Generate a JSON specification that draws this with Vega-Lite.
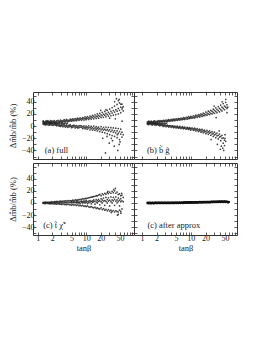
{
  "$schema": "https://vega.github.io/schema/vega-lite/v6.json",
  "padding": {"left": 7, "top": 91, "right": 0, "bottom": 0},
  "background": "white",
  "spacing": 0,
  "config": {
    "view": {"stroke": "#333", "strokeWidth": 1},
    "concat": {"spacing": 0},
    "axis": {"domain": false, "grid": false, "tickSize": -3, "tickColor": "#333", "tickWidth": 0.8,
      "labelFont": "Liberation Serif", "labelFontSize": 8, "labelColor": "#222", "labelOverlap": false,
      "titleFont": "Liberation Serif", "titleFontSize": 8.5, "titleFontWeight": "normal", "titleColor": "#222"}
  },
  "vconcat": [
    {"bounds": "flush", "spacing": 0, "hconcat": [
      {"width": 101, "height": 67,
       "layer": [
        {"data": {"values": [
{"t":1.3,"v":7.5},{"t":1.3,"v":5},{"t":1.3,"v":3},{"t":1.3,"v":5.5},{"t":1.3,"v":8.5},
{"t":1.38,"v":6.5},{"t":1.38,"v":4.5},{"t":1.38,"v":2.5},{"t":1.38,"v":6},
{"t":1.46,"v":8},{"t":1.46,"v":5.5},{"t":1.46,"v":3.5},{"t":1.46,"v":2},
{"t":1.55,"v":7},{"t":1.55,"v":4},{"t":1.55,"v":3},{"t":1.55,"v":6.5},{"t":1.55,"v":9},
{"t":1.64,"v":6},{"t":1.64,"v":8.5},{"t":1.64,"v":2},{"t":1.64,"v":4.5},
{"t":1.74,"v":7.5},{"t":1.74,"v":5},{"t":1.74,"v":3.5},{"t":1.74,"v":1.5},
{"t":1.84,"v":6.5},{"t":1.84,"v":9},{"t":1.84,"v":4},{"t":1.84,"v":2.5},
{"t":1.95,"v":7},{"t":1.95,"v":5},{"t":1.95,"v":2},{"t":1.95,"v":4.5},{"t":1.95,"v":8},
{"t":2.07,"v":8},{"t":2.07,"v":5.5},{"t":2.07,"v":3},{"t":2.07,"v":1},
{"t":2.2,"v":6.5},{"t":2.2,"v":9},{"t":2.2,"v":2.5},{"t":2.2,"v":4},
{"t":2.33,"v":7.5},{"t":2.33,"v":5.5},{"t":2.33,"v":1.5},{"t":2.33,"v":3.5},
{"t":2.47,"v":8.5},{"t":2.47,"v":6},{"t":2.47,"v":2.5},{"t":2.47,"v":0.5},
{"t":2.62,"v":7},{"t":2.62,"v":9.5},{"t":2.62,"v":1},{"t":2.62,"v":3.5},
{"t":2.78,"v":8},{"t":2.78,"v":6},{"t":2.78,"v":2},{"t":2.78,"v":0},
{"t":2.95,"v":7.5},{"t":2.95,"v":10},{"t":2.95,"v":1.5},{"t":2.95,"v":-0.5},
{"t":3.13,"v":8.5},{"t":3.13,"v":6.5},{"t":3.13,"v":0.5},{"t":3.13,"v":3},
{"t":3.32,"v":9},{"t":3.32,"v":7},{"t":3.32,"v":1.5},{"t":3.32,"v":-1},
{"t":3.52,"v":8},{"t":3.52,"v":10.5},{"t":3.52,"v":0},{"t":3.52,"v":2.5},
{"t":3.73,"v":9.5},{"t":3.73,"v":7},{"t":3.73,"v":1},{"t":3.73,"v":-1.5},
{"t":3.96,"v":8.5},{"t":3.96,"v":11},{"t":3.96,"v":-0.5},{"t":3.96,"v":2},
{"t":4.2,"v":9.5},{"t":4.2,"v":7.5},{"t":4.2,"v":0.5},{"t":4.2,"v":-2},
{"t":4.45,"v":10},{"t":4.45,"v":8},{"t":4.45,"v":1.5},{"t":4.45,"v":-1},
{"t":4.72,"v":9},{"t":4.72,"v":11.5},{"t":4.72,"v":-0.5},{"t":4.72,"v":2},
{"t":5.0,"v":10.5},{"t":5.0,"v":8},{"t":5.0,"v":0},{"t":5.0,"v":-2.5},
{"t":5.3,"v":9.5},{"t":5.3,"v":12},{"t":5.3,"v":1},{"t":5.3,"v":-1.5},
{"t":5.6,"v":11},{"t":5.6,"v":8.5},{"t":5.6,"v":-1},{"t":5.6,"v":1.5},
{"t":5.95,"v":10},{"t":5.95,"v":12.5},{"t":5.95,"v":0},{"t":5.95,"v":-3},
{"t":6.3,"v":11.5},{"t":6.3,"v":9},{"t":6.3,"v":-1.5},{"t":6.3,"v":1},
{"t":6.7,"v":10.5},{"t":6.7,"v":13},{"t":6.7,"v":-0.5},{"t":6.7,"v":-3},
{"t":7.1,"v":12},{"t":7.1,"v":9.5},{"t":7.1,"v":0.5},{"t":7.1,"v":-2.5},
{"t":7.5,"v":11},{"t":7.5,"v":13.5},{"t":7.5,"v":-1.5},{"t":7.5,"v":1},
{"t":8,"v":12.5},{"t":8,"v":10},{"t":8,"v":-2},{"t":8,"v":0.5},
{"t":8.5,"v":11.5},{"t":8.5,"v":14},{"t":8.5,"v":-1},{"t":8.5,"v":-4},
{"t":9,"v":13},{"t":9,"v":10},{"t":9,"v":-2.5},{"t":9,"v":0.5},
{"t":9.5,"v":12},{"t":9.5,"v":15},{"t":9.5,"v":-1.5},{"t":9.5,"v":-4.5},
{"t":10,"v":13.5},{"t":10,"v":10.5},{"t":10,"v":-3},{"t":10,"v":0},
{"t":10.6,"v":12.5},{"t":10.6,"v":15.5},{"t":10.6,"v":-1.5},{"t":10.6,"v":-5},
{"t":11.3,"v":14},{"t":11.3,"v":11},{"t":11.3,"v":-3},{"t":11.3,"v":0.5},
{"t":12,"v":13},{"t":12,"v":16.5},{"t":12,"v":-2},{"t":12,"v":-6},
{"t":12.7,"v":15},{"t":12.7,"v":11.5},{"t":12.7,"v":-4},{"t":12.7,"v":-0.5},
{"t":13.5,"v":14},{"t":13.5,"v":17.5},{"t":13.5,"v":-2.5},{"t":13.5,"v":-6.5},
{"t":14.3,"v":16},{"t":14.3,"v":12},{"t":14.3,"v":-4.5},{"t":14.3,"v":0},
{"t":15.2,"v":14.5},{"t":15.2,"v":18.5},{"t":15.2,"v":-3},{"t":15.2,"v":-7},
{"t":16.1,"v":16.5},{"t":16.1,"v":12.5},{"t":16.1,"v":-5},{"t":16.1,"v":-1},
{"t":17,"v":15.5},{"t":17,"v":20},{"t":17,"v":-3.5},{"t":17,"v":-8},
{"t":18,"v":17.5},{"t":18,"v":13},{"t":18,"v":-5.5},{"t":18,"v":-1.5},
{"t":19.1,"v":16},{"t":19.1,"v":21},{"t":19.1,"v":-4},{"t":19.1,"v":-9},
{"t":20.3,"v":18.5},{"t":20.3,"v":14},{"t":20.3,"v":-6},{"t":20.3,"v":-1},
{"t":21.5,"v":17},{"t":21.5,"v":22.5},{"t":21.5,"v":-4.5},{"t":21.5,"v":-10},
{"t":22.8,"v":19.5},{"t":22.8,"v":14.5},{"t":22.8,"v":-6.5},{"t":22.8,"v":-2},
{"t":24.2,"v":18},{"t":24.2,"v":24},{"t":24.2,"v":-5},{"t":24.2,"v":-11},
{"t":25.6,"v":21},{"t":25.6,"v":15.5},{"t":25.6,"v":-7},{"t":25.6,"v":-1.5},{"t":25.6,"v":27},
{"t":27.2,"v":19},{"t":27.2,"v":26},{"t":27.2,"v":-5.5},{"t":27.2,"v":-12.5},
{"t":28.8,"v":22.5},{"t":28.8,"v":16.5},{"t":28.8,"v":-8},{"t":28.8,"v":-2},
{"t":30.5,"v":20},{"t":30.5,"v":28},{"t":30.5,"v":-6},{"t":30.5,"v":-14},{"t":30.5,"v":13},
{"t":32.4,"v":24},{"t":32.4,"v":17},{"t":32.4,"v":-9},{"t":32.4,"v":-2.5},
{"t":34.3,"v":21.5},{"t":34.3,"v":30.5},{"t":34.3,"v":-6.5},{"t":34.3,"v":-15.5},
{"t":36.4,"v":25.5},{"t":36.4,"v":18},{"t":36.4,"v":-10},{"t":36.4,"v":-3},
{"t":38.6,"v":23},{"t":38.6,"v":33},{"t":38.6,"v":-7.5},{"t":38.6,"v":-17},{"t":38.6,"v":40},
{"t":40.9,"v":27},{"t":40.9,"v":19},{"t":40.9,"v":-11},{"t":40.9,"v":-3.5},
{"t":43.4,"v":24.5},{"t":43.4,"v":35.5},{"t":43.4,"v":-8},{"t":43.4,"v":-19},
{"t":46,"v":29},{"t":46,"v":20},{"t":46,"v":-12},{"t":46,"v":-4},{"t":46,"v":42},
{"t":48.8,"v":26},{"t":48.8,"v":38},{"t":48.8,"v":-9},{"t":48.8,"v":-22},
{"t":51.7,"v":31},{"t":51.7,"v":22},{"t":51.7,"v":-13},{"t":51.7,"v":-5},
{"t":54.8,"v":28},{"t":54.8,"v":36},{"t":54.8,"v":-10},{"t":54.8,"v":-18},
{"t":58.1,"v":32},{"t":58.1,"v":25},{"t":58.1,"v":-14},
{"t":25,"v":-44},{"t":30,"v":-28},{"t":38,"v":-33},{"t":45,"v":-40},{"t":48,"v":-30},{"t":22,"v":-20},{"t":55,"v":8},{"t":48,"v":44},{"t":52,"v":36},{"t":40,"v":12},{"t":35,"v":-24},{"t":44,"v":-14},{"t":33,"v":-20},{"t":50,"v":-26},{"t":42,"v":45},{"t":56,"v":30},{"t":20,"v":26},{"t":27,"v":-17},
{"t":1.34,"v":6},{"t":1.42,"v":5},{"t":1.5,"v":4},{"t":1.6,"v":7},{"t":1.7,"v":6},{"t":1.8,"v":5},{"t":1.9,"v":6},{"t":2.0,"v":4.5},{"t":2.13,"v":6},{"t":2.27,"v":5},{"t":2.4,"v":4},{"t":2.55,"v":5},{"t":2.7,"v":4},{"t":2.87,"v":5},{"t":3.05,"v":4.5},{"t":3.2,"v":5},{"t":3.4,"v":4},{"t":3.6,"v":5},{"t":3.85,"v":4.5},{"t":4.1,"v":5}
        ]},
         "mark": {"type": "circle", "size": 3, "color": "#222", "opacity": 0.85},
         "encoding": {
          "x": {"field": "t", "type": "quantitative", "scale": {"type": "log", "domain": [0.8, 97], "nice": false},
                "axis": {"values": [1,2,3,4,5,6,7,8,9,10,20,30,40,50,60,70,80,90], "labels": false, "title": null}},
          "y": {"field": "v", "type": "quantitative", "scale": {"domain": [-54, 56], "nice": false},
                "axis": {"values": [-50,-40,-30,-20,-10,0,10,20,30,40,50], "labelExpr": "datum.value % 20 == 0 ? datum.label : ''", "title": "Δm̂b/m̂b (%)", "titlePadding": 4}}
         }},
        {"data": {"values": [{"t": 1.4, "v": -39, "s": "(a) full"}]},
         "mark": {"type": "text", "align": "left", "baseline": "middle", "font": "Liberation Serif", "fontSize": 8.5, "color": "#222"},
         "encoding": {
          "x": {"field": "t", "type": "quantitative", "axis": {"orient": "top", "values": [1,2,3,4,5,6,7,8,9,10,20,30,40,50,60,70,80,90], "labels": false, "title": null}},
          "y": {"field": "v", "type": "quantitative", "axis": {"orient": "right", "values": [-50,-40,-30,-20,-10,0,10,20,30,40,50], "labels": false, "title": null}},
          "text": {"field": "s"}
         }}
       ],
       "resolve": {"axis": {"x": "independent", "y": "independent"}}
      },
      {"width": 103, "height": 67,
       "layer": [
        {"data": {"values": [
{"t":1.3,"v":7},{"t":1.3,"v":5},{"t":1.3,"v":3},{"t":1.3,"v":5},
{"t":1.38,"v":6},{"t":1.38,"v":8},{"t":1.38,"v":4.5},{"t":1.38,"v":2.5},
{"t":1.46,"v":7.5},{"t":1.46,"v":5.5},{"t":1.46,"v":3.5},{"t":1.46,"v":5.5},
{"t":1.55,"v":6.5},{"t":1.55,"v":8},{"t":1.55,"v":2.5},{"t":1.55,"v":4.5},
{"t":1.64,"v":7},{"t":1.64,"v":5.5},{"t":1.64,"v":4},{"t":1.64,"v":2},
{"t":1.74,"v":8},{"t":1.74,"v":6},{"t":1.74,"v":3},{"t":1.74,"v":5},
{"t":1.84,"v":6.5},{"t":1.84,"v":8.5},{"t":1.84,"v":2},{"t":1.84,"v":4},
{"t":1.95,"v":7.5},{"t":1.95,"v":6},{"t":1.95,"v":3.5},{"t":1.95,"v":1.5},
{"t":2.07,"v":8},{"t":2.07,"v":6.5},{"t":2.07,"v":2.5},{"t":2.07,"v":4},
{"t":2.2,"v":7},{"t":2.2,"v":9},{"t":2.2,"v":1.5},{"t":2.2,"v":3.5},
{"t":2.33,"v":8.5},{"t":2.33,"v":6.5},{"t":2.33,"v":2.5},{"t":2.33,"v":0.5},
{"t":2.47,"v":7.5},{"t":2.47,"v":9},{"t":2.47,"v":1.5},{"t":2.47,"v":3},
{"t":2.62,"v":8.5},{"t":2.62,"v":7},{"t":2.62,"v":0.5},{"t":2.62,"v":2.5},
{"t":2.78,"v":7.5},{"t":2.78,"v":9.5},{"t":2.78,"v":1.5},{"t":2.78,"v":-0.5},
{"t":2.95,"v":9},{"t":2.95,"v":7},{"t":2.95,"v":0.5},{"t":2.95,"v":2},
{"t":3.13,"v":8},{"t":3.13,"v":10},{"t":3.13,"v":1},{"t":3.13,"v":-1},
{"t":3.32,"v":9.5},{"t":3.32,"v":7.5},{"t":3.32,"v":0},{"t":3.32,"v":1.5},
{"t":3.52,"v":8.5},{"t":3.52,"v":10.5},{"t":3.52,"v":0.5},{"t":3.52,"v":-1.5},
{"t":3.73,"v":10},{"t":3.73,"v":8},{"t":3.73,"v":-0.5},{"t":3.73,"v":1},
{"t":3.96,"v":9},{"t":3.96,"v":11},{"t":3.96,"v":0},{"t":3.96,"v":-2},
{"t":4.2,"v":10.5},{"t":4.2,"v":8.5},{"t":4.2,"v":-1},{"t":4.2,"v":0.5},
{"t":4.45,"v":9.5},{"t":4.45,"v":11.5},{"t":4.45,"v":-0.5},{"t":4.45,"v":-2.5},
{"t":4.72,"v":11},{"t":4.72,"v":9},{"t":4.72,"v":-1.5},{"t":4.72,"v":0},
{"t":5.0,"v":10},{"t":5.0,"v":12},{"t":5.0,"v":-1},{"t":5.0,"v":-3},
{"t":5.3,"v":11.5},{"t":5.3,"v":9.5},{"t":5.3,"v":-2},{"t":5.3,"v":0},
{"t":5.6,"v":10.5},{"t":5.6,"v":12.5},{"t":5.6,"v":-1.5},{"t":5.6,"v":-3.5},
{"t":5.95,"v":12},{"t":5.95,"v":10},{"t":5.95,"v":-2.5},{"t":5.95,"v":-0.5},
{"t":6.3,"v":11},{"t":6.3,"v":13},{"t":6.3,"v":-2},{"t":6.3,"v":-4},
{"t":6.7,"v":12.5},{"t":6.7,"v":10.5},{"t":6.7,"v":-3},{"t":6.7,"v":-1},
{"t":7.1,"v":11.5},{"t":7.1,"v":14},{"t":7.1,"v":-2.5},{"t":7.1,"v":-4.5},
{"t":7.5,"v":13},{"t":7.5,"v":11},{"t":7.5,"v":-3.5},{"t":7.5,"v":-1.5},
{"t":8,"v":12},{"t":8,"v":14.5},{"t":8,"v":-3},{"t":8,"v":-5},
{"t":8.5,"v":14},{"t":8.5,"v":11.5},{"t":8.5,"v":-4},{"t":8.5,"v":-2},
{"t":9,"v":12.5},{"t":9,"v":15.5},{"t":9,"v":-3.5},{"t":9,"v":-5.5},
{"t":9.5,"v":14.5},{"t":9.5,"v":12.5},{"t":9.5,"v":-4.5},{"t":9.5,"v":-2.5},
{"t":10,"v":13.5},{"t":10,"v":16},{"t":10,"v":-4},{"t":10,"v":-6.5},
{"t":10.6,"v":15},{"t":10.6,"v":13},{"t":10.6,"v":-5},{"t":10.6,"v":-3},
{"t":11.3,"v":14},{"t":11.3,"v":17},{"t":11.3,"v":-4.5},{"t":11.3,"v":-7},
{"t":12,"v":16},{"t":12,"v":13.5},{"t":12,"v":-6},{"t":12,"v":-3.5},
{"t":12.7,"v":15},{"t":12.7,"v":18},{"t":12.7,"v":-5},{"t":12.7,"v":-8},
{"t":13.5,"v":17},{"t":13.5,"v":14.5},{"t":13.5,"v":-6.5},{"t":13.5,"v":-4},
{"t":14.3,"v":16},{"t":14.3,"v":19},{"t":14.3,"v":-6},{"t":14.3,"v":-9},
{"t":15.2,"v":18},{"t":15.2,"v":15},{"t":15.2,"v":-7.5},{"t":15.2,"v":-5},
{"t":16.1,"v":17},{"t":16.1,"v":20},{"t":16.1,"v":-6.5},{"t":16.1,"v":-10},
{"t":17,"v":19},{"t":17,"v":16},{"t":17,"v":-8.5},{"t":17,"v":-5.5},
{"t":18,"v":17.5},{"t":18,"v":21.5},{"t":18,"v":-7.5},{"t":18,"v":-11},
{"t":19.1,"v":20},{"t":19.1,"v":17},{"t":19.1,"v":-9.5},{"t":19.1,"v":-6.5},
{"t":20.3,"v":18.5},{"t":20.3,"v":23},{"t":20.3,"v":-8.5},{"t":20.3,"v":-12.5},
{"t":21.5,"v":21.5},{"t":21.5,"v":18},{"t":21.5,"v":-10.5},{"t":21.5,"v":-7},
{"t":22.8,"v":20},{"t":22.8,"v":24.5},{"t":22.8,"v":-9.5},{"t":22.8,"v":-13.5},
{"t":24.2,"v":23},{"t":24.2,"v":19},{"t":24.2,"v":-11.5},{"t":24.2,"v":-8},
{"t":25.6,"v":21},{"t":25.6,"v":26},{"t":25.6,"v":-10.5},{"t":25.6,"v":-15},
{"t":27.2,"v":24.5},{"t":27.2,"v":20},{"t":27.2,"v":-13},{"t":27.2,"v":-9},
{"t":28.8,"v":22.5},{"t":28.8,"v":28},{"t":28.8,"v":-12},{"t":28.8,"v":-17},
{"t":30.5,"v":26},{"t":30.5,"v":21},{"t":30.5,"v":-14.5},{"t":30.5,"v":-10},
{"t":32.4,"v":24},{"t":32.4,"v":30},{"t":32.4,"v":-13},{"t":32.4,"v":-19},
{"t":34.3,"v":27.5},{"t":34.3,"v":22},{"t":34.3,"v":-16},{"t":34.3,"v":-11.5},
{"t":36.4,"v":25.5},{"t":36.4,"v":32},{"t":36.4,"v":-15},{"t":36.4,"v":-21},
{"t":38.6,"v":29},{"t":38.6,"v":23.5},{"t":38.6,"v":-18},{"t":38.6,"v":-13},
{"t":40.9,"v":27},{"t":40.9,"v":34.5},{"t":40.9,"v":-17},{"t":40.9,"v":-24},
{"t":43.4,"v":31},{"t":43.4,"v":25},{"t":43.4,"v":-20},{"t":43.4,"v":-15},
{"t":46,"v":29},{"t":46,"v":37},{"t":46,"v":-19.5},{"t":46,"v":-28},
{"t":48.8,"v":33},{"t":48.8,"v":27},{"t":48.8,"v":-23},{"t":48.8,"v":-32},
{"t":51.7,"v":31},{"t":51.7,"v":39},{"t":51.7,"v":-25},
{"t":54.8,"v":35},{"t":54.8,"v":29},
{"t":40,"v":-38},{"t":45,"v":-36},{"t":50,"v":-20},{"t":35,"v":-30},{"t":52,"v":44},{"t":44,"v":40},{"t":30,"v":33},{"t":55,"v":22},{"t":38,"v":-8},{"t":47,"v":-40},{"t":42,"v":-33},{"t":50,"v":-14},{"t":57,"v":31},{"t":26,"v":-22},{"t":33,"v":14},
{"t":1.34,"v":5},{"t":1.42,"v":4},{"t":1.5,"v":6},{"t":1.6,"v":5},{"t":1.7,"v":4},{"t":1.8,"v":5},{"t":1.9,"v":4},{"t":2.0,"v":5},{"t":2.13,"v":4},{"t":2.27,"v":5},{"t":2.4,"v":4},{"t":2.55,"v":5},{"t":2.7,"v":4},{"t":2.87,"v":4.5},{"t":3.05,"v":4},{"t":3.2,"v":5}
        ]},
         "mark": {"type": "circle", "size": 3, "color": "#222", "opacity": 0.85},
         "encoding": {
          "x": {"field": "t", "type": "quantitative", "scale": {"type": "log", "domain": [0.69, 88], "nice": false},
                "axis": {"values": [1,2,3,4,5,6,7,8,9,10,20,30,40,50,60,70,80], "labels": false, "title": null}},
          "y": {"field": "v", "type": "quantitative", "scale": {"domain": [-54, 56], "nice": false},
                "axis": {"values": [-50,-40,-30,-20,-10,0,10,20,30,40,50], "labels": false, "title": null}}
         }},
        {"data": {"values": [{"t": 1.27, "v": -39, "s": "(b) b̃ g̃"}]},
         "mark": {"type": "text", "align": "left", "baseline": "middle", "font": "Liberation Serif", "fontSize": 8.5, "color": "#222"},
         "encoding": {
          "x": {"field": "t", "type": "quantitative", "axis": {"orient": "top", "values": [1,2,3,4,5,6,7,8,9,10,20,30,40,50,60,70,80], "labels": false, "title": null}},
          "y": {"field": "v", "type": "quantitative", "axis": {"orient": "right", "values": [-50,-40,-30,-20,-10,0,10,20,30,40,50], "labels": false, "title": null}},
          "text": {"field": "s"}
         }}
       ],
       "resolve": {"axis": {"x": "independent", "y": "independent"}}
      }
    ]},
    {"bounds": "flush", "spacing": 0, "hconcat": [
      {"width": 101, "height": 72,
       "layer": [
        {"data": {"values": [
{"t":1.3,"v":0},{"t":1.3,"v":1},{"t":1.3,"v":-0.5},
{"t":1.38,"v":0.5},{"t":1.38,"v":-1},{"t":1.38,"v":1},
{"t":1.46,"v":0},{"t":1.46,"v":1.5},{"t":1.46,"v":-1},
{"t":1.55,"v":0.5},{"t":1.55,"v":-0.5},{"t":1.55,"v":1},
{"t":1.64,"v":0},{"t":1.64,"v":1.5},{"t":1.64,"v":-1},
{"t":1.74,"v":1},{"t":1.74,"v":-1},{"t":1.74,"v":0},
{"t":1.84,"v":0},{"t":1.84,"v":1.5},{"t":1.84,"v":-1.5},
{"t":1.95,"v":0.5},{"t":1.95,"v":-1},{"t":1.95,"v":2},
{"t":2.07,"v":0},{"t":2.07,"v":1.5},{"t":2.07,"v":-1.5},
{"t":2.2,"v":1},{"t":2.2,"v":-1.5},{"t":2.2,"v":2},
{"t":2.33,"v":0},{"t":2.33,"v":2},{"t":2.33,"v":-1.5},
{"t":2.47,"v":0.5},{"t":2.47,"v":-2},{"t":2.47,"v":2.5},
{"t":2.62,"v":1},{"t":2.62,"v":-1},{"t":2.62,"v":2},
{"t":2.78,"v":0},{"t":2.78,"v":2.5},{"t":2.78,"v":-2},
{"t":2.95,"v":1},{"t":2.95,"v":-2},{"t":2.95,"v":3},
{"t":3.13,"v":0},{"t":3.13,"v":2.5},{"t":3.13,"v":-2.5},
{"t":3.32,"v":1.5},{"t":3.32,"v":-1.5},{"t":3.32,"v":3},
{"t":3.52,"v":0.5},{"t":3.52,"v":3},{"t":3.52,"v":-2.5},
{"t":3.73,"v":1},{"t":3.73,"v":-2.5},{"t":3.73,"v":3.5},
{"t":3.96,"v":0},{"t":3.96,"v":3},{"t":3.96,"v":-3},
{"t":4.2,"v":1.5},{"t":4.2,"v":-2},{"t":4.2,"v":4},
{"t":4.45,"v":0.5},{"t":4.45,"v":3.5},{"t":4.45,"v":-3},
{"t":4.72,"v":1},{"t":4.72,"v":-3},{"t":4.72,"v":4},
{"t":5.0,"v":0},{"t":5.0,"v":3.5},{"t":5.0,"v":-3.5},{"t":5.0,"v":2},
{"t":5.3,"v":1.5},{"t":5.3,"v":-2.5},{"t":5.3,"v":4.5},
{"t":5.6,"v":0.5},{"t":5.6,"v":4},{"t":5.6,"v":-3.5},{"t":5.6,"v":2},
{"t":5.95,"v":1},{"t":5.95,"v":-3},{"t":5.95,"v":5},
{"t":6.3,"v":2},{"t":6.3,"v":4.5},{"t":6.3,"v":-4},{"t":6.3,"v":0},
{"t":6.7,"v":0.5},{"t":6.7,"v":-3},{"t":6.7,"v":5},{"t":6.7,"v":3},
{"t":7.1,"v":1.5},{"t":7.1,"v":5.5},{"t":7.1,"v":-4.5},{"t":7.1,"v":0},
{"t":7.5,"v":2.5},{"t":7.5,"v":-4},{"t":7.5,"v":6},{"t":7.5,"v":-1},
{"t":8,"v":1},{"t":8,"v":6},{"t":8,"v":-5},{"t":8,"v":3},
{"t":8.5,"v":2},{"t":8.5,"v":-4},{"t":8.5,"v":7},{"t":8.5,"v":0},
{"t":9,"v":1},{"t":9,"v":6.5},{"t":9,"v":-5.5},{"t":9,"v":3.5},
{"t":9.5,"v":2.5},{"t":9.5,"v":-5},{"t":9.5,"v":7.5},{"t":9.5,"v":0},
{"t":10,"v":1.5},{"t":10,"v":7},{"t":10,"v":-6},{"t":10,"v":4},
{"t":10.6,"v":2},{"t":10.6,"v":-5},{"t":10.6,"v":8},{"t":10.6,"v":-1},
{"t":11.3,"v":3},{"t":11.3,"v":8.5},{"t":11.3,"v":-6.5},{"t":11.3,"v":0.5},
{"t":12,"v":1.5},{"t":12,"v":-7},{"t":12,"v":9},{"t":12,"v":4},
{"t":12.7,"v":2.5},{"t":12.7,"v":9.5},{"t":12.7,"v":-6},{"t":12.7,"v":-1.5},
{"t":13.5,"v":3.5},{"t":13.5,"v":-7.5},{"t":13.5,"v":10},{"t":13.5,"v":1},
{"t":14.3,"v":2},{"t":14.3,"v":10.5},{"t":14.3,"v":-8},{"t":14.3,"v":5},
{"t":15.2,"v":3},{"t":15.2,"v":-7},{"t":15.2,"v":11},{"t":15.2,"v":-2},
{"t":16.1,"v":1.5},{"t":16.1,"v":12},{"t":16.1,"v":-9},{"t":16.1,"v":5.5},
{"t":17,"v":4},{"t":17,"v":-8},{"t":17,"v":11.5},{"t":17,"v":0},
{"t":18,"v":2.5},{"t":18,"v":13},{"t":18,"v":-9.5},{"t":18,"v":6},
{"t":19.1,"v":3.5},{"t":19.1,"v":-10},{"t":19.1,"v":14},{"t":19.1,"v":-3},
{"t":20.3,"v":2},{"t":20.3,"v":12},{"t":20.3,"v":-8},{"t":20.3,"v":7},
{"t":21.5,"v":5},{"t":21.5,"v":-11},{"t":21.5,"v":15},{"t":21.5,"v":0},
{"t":22.8,"v":3},{"t":22.8,"v":13.5},{"t":22.8,"v":-9.5},{"t":22.8,"v":8},
{"t":24.2,"v":4},{"t":24.2,"v":-12},{"t":24.2,"v":16},{"t":24.2,"v":-4},
{"t":25.6,"v":2.5},{"t":25.6,"v":14.5},{"t":25.6,"v":-10.5},{"t":25.6,"v":9},
{"t":27.2,"v":5.5},{"t":27.2,"v":-13},{"t":27.2,"v":17},{"t":27.2,"v":0},
{"t":28.8,"v":3},{"t":28.8,"v":15.5},{"t":28.8,"v":-11},{"t":28.8,"v":8.5},
{"t":30.5,"v":4.5},{"t":30.5,"v":-13.5},{"t":30.5,"v":18},{"t":30.5,"v":-5},
{"t":32.4,"v":2},{"t":32.4,"v":16},{"t":32.4,"v":-12},{"t":32.4,"v":10},
{"t":34.3,"v":5},{"t":34.3,"v":-14},{"t":34.3,"v":19},{"t":34.3,"v":0},
{"t":36.4,"v":3.5},{"t":36.4,"v":17},{"t":36.4,"v":-12.5},{"t":36.4,"v":9},
{"t":38.6,"v":6},{"t":38.6,"v":-15},{"t":38.6,"v":20},{"t":38.6,"v":-4},
{"t":40.9,"v":3},{"t":40.9,"v":16},{"t":40.9,"v":-13},{"t":40.9,"v":10},
{"t":43.4,"v":5},{"t":43.4,"v":-14},{"t":43.4,"v":18},{"t":43.4,"v":0},
{"t":46,"v":2.5},{"t":46,"v":14},{"t":46,"v":-15},{"t":46,"v":8},
{"t":48.8,"v":4.5},{"t":48.8,"v":-12},{"t":48.8,"v":15},{"t":48.8,"v":-5},
{"t":51.7,"v":2},{"t":51.7,"v":12},{"t":51.7,"v":-14},{"t":51.7,"v":7},
{"t":54.8,"v":3.5},{"t":54.8,"v":-10},{"t":54.8,"v":13},
{"t":58.1,"v":2},{"t":58.1,"v":9},
{"t":44,"v":-20},{"t":40,"v":24},{"t":52,"v":-17},{"t":33,"v":-16},{"t":28,"v":19},{"t":46,"v":-19},{"t":37,"v":22},{"t":54,"v":16}
        ]},
         "mark": {"type": "circle", "size": 3, "color": "#222", "opacity": 0.85},
         "encoding": {
          "x": {"field": "t", "type": "quantitative", "scale": {"type": "log", "domain": [0.8, 97], "nice": false},
                "axis": {"values": [1,2,3,4,5,6,7,8,9,10,20,30,40,50,60,70,80,90], "format": "d", "labelExpr": "indexof([1,2,5,10,20,50], datum.value) >= 0 ? datum.label : ''", "title": "tanβ", "labelPadding": 2, "titlePadding": 1}},
          "y": {"field": "v", "type": "quantitative", "scale": {"domain": [-53, 66], "nice": false},
                "axis": {"values": [-50,-40,-30,-20,-10,0,10,20,30,40,50,60], "labelExpr": "datum.value % 20 == 0 && datum.value < 60 ? datum.label : ''", "title": "Δm̂b/m̂b (%)", "titlePadding": 4}}
         }},
        {"data": {"values": [{"t": 1.3, "v": -36, "s": "(c) t̃ χ̃⁺"}]},
         "mark": {"type": "text", "align": "left", "baseline": "middle", "font": "Liberation Serif", "fontSize": 8.5, "color": "#222"},
         "encoding": {
          "x": {"field": "t", "type": "quantitative", "axis": {"orient": "top", "values": [1,2,3,4,5,6,7,8,9,10,20,30,40,50,60,70,80,90], "labels": false, "title": null}},
          "y": {"field": "v", "type": "quantitative", "axis": {"orient": "right", "values": [-50,-40,-30,-20,-10,0,10,20,30,40,50,60], "labels": false, "title": null}},
          "text": {"field": "s"}
         }}
       ],
       "resolve": {"axis": {"x": "independent", "y": "independent"}}
      },
      {"width": 103, "height": 72,
       "layer": [
        {"data": {"values": [
{"t":1.3,"v":0},{"t":1.34,"v":0.5},{"t":1.38,"v":-0.5},{"t":1.42,"v":0},{"t":1.46,"v":0.5},{"t":1.5,"v":0},{"t":1.55,"v":-0.5},{"t":1.6,"v":0},{"t":1.64,"v":0.5},{"t":1.7,"v":0},{"t":1.74,"v":-0.5},{"t":1.8,"v":0},{"t":1.84,"v":0.5},{"t":1.9,"v":0},{"t":1.95,"v":0.5},{"t":2.0,"v":0},{"t":2.07,"v":0},{"t":2.13,"v":0.5},{"t":2.2,"v":0},{"t":2.27,"v":0.5},{"t":2.33,"v":0},{"t":2.4,"v":0},{"t":2.47,"v":0.5},{"t":2.55,"v":0},{"t":2.62,"v":0.5},{"t":2.7,"v":0},{"t":2.78,"v":0},{"t":2.87,"v":0.5},{"t":2.95,"v":0},{"t":3.05,"v":0.5},{"t":3.13,"v":0},{"t":3.22,"v":0},{"t":3.32,"v":0.5},{"t":3.42,"v":0},{"t":3.52,"v":0.5},{"t":3.62,"v":0},{"t":3.73,"v":0},{"t":3.85,"v":0.5},{"t":3.96,"v":0},{"t":4.08,"v":0.5},{"t":4.2,"v":0},{"t":4.33,"v":0.5},{"t":4.45,"v":0},{"t":4.6,"v":0.5},{"t":4.72,"v":0},{"t":4.86,"v":0.5},{"t":5.0,"v":0.5},{"t":5.15,"v":0},{"t":5.3,"v":0.5},{"t":5.45,"v":0.5},{"t":5.6,"v":0},{"t":5.8,"v":0.5},{"t":5.95,"v":0.5},{"t":6.1,"v":0},{"t":6.3,"v":0.5},{"t":6.5,"v":0.5},{"t":6.7,"v":0.5},{"t":6.9,"v":0},{"t":7.1,"v":0.5},{"t":7.3,"v":1},{"t":7.5,"v":0.5},{"t":7.75,"v":0.5},{"t":8,"v":1},{"t":8.25,"v":0.5},{"t":8.5,"v":0.5},{"t":8.75,"v":1},{"t":9,"v":0.5},{"t":9.25,"v":1},{"t":9.5,"v":0.5},{"t":9.75,"v":1},{"t":10,"v":0.5},{"t":10.3,"v":1},{"t":10.6,"v":1},{"t":10.95,"v":0.5},{"t":11.3,"v":1},{"t":11.65,"v":1},{"t":12,"v":0.5},{"t":12.35,"v":1},{"t":12.7,"v":1},{"t":13.1,"v":1},{"t":13.5,"v":0.5},{"t":13.9,"v":1},{"t":14.3,"v":1},{"t":14.75,"v":1},{"t":15.2,"v":1.5},{"t":15.65,"v":1},{"t":16.1,"v":1},{"t":16.55,"v":1.5},{"t":17,"v":1},{"t":17.5,"v":1},{"t":18,"v":1.5},{"t":18.5,"v":1},{"t":19.1,"v":1.5},{"t":19.7,"v":1},{"t":20.3,"v":1.5},{"t":20.9,"v":1},{"t":21.5,"v":1.5},{"t":22.1,"v":1.5},{"t":22.8,"v":1},{"t":23.5,"v":1.5},{"t":24.2,"v":1.5},{"t":24.9,"v":1},{"t":25.6,"v":1.5},{"t":26.4,"v":2},{"t":27.2,"v":1.5},{"t":28,"v":1.5},{"t":28.8,"v":2},{"t":29.6,"v":1.5},{"t":30.5,"v":2},{"t":31.4,"v":1.5},{"t":32.4,"v":2},{"t":33.3,"v":1.5},{"t":34.3,"v":2},{"t":35.3,"v":2},{"t":36.4,"v":1.5},{"t":37.5,"v":2},{"t":38.6,"v":2.5},{"t":39.7,"v":2},{"t":40.9,"v":1.5},{"t":42.1,"v":2},{"t":43.4,"v":2.5},{"t":44.7,"v":2},{"t":46,"v":1.5},{"t":47.4,"v":2},{"t":48.8,"v":2.5},{"t":50.2,"v":2},{"t":51.7,"v":1.5},{"t":53.2,"v":2},{"t":54.8,"v":2},{"t":56.4,"v":1.5},{"t":58.1,"v":1},{"t":60,"v":1.5}
        ]},
         "mark": {"type": "circle", "size": 6, "color": "#111", "opacity": 1},
         "encoding": {
          "x": {"field": "t", "type": "quantitative", "scale": {"type": "log", "domain": [0.69, 88], "nice": false},
                "axis": {"values": [1,2,3,4,5,6,7,8,9,10,20,30,40,50,60,70,80], "format": "d", "labelExpr": "indexof([1,2,5,10,20,50], datum.value) >= 0 ? datum.label : ''", "title": "tanβ", "labelPadding": 2, "titlePadding": 1}},
          "y": {"field": "v", "type": "quantitative", "scale": {"domain": [-53, 66], "nice": false},
                "axis": {"values": [-50,-40,-30,-20,-10,0,10,20,30,40,50,60], "labels": false, "title": null}}
         }},
        {"data": {"values": [{"t": 1.3, "v": -36, "s": "(c) after approx"}]},
         "mark": {"type": "text", "align": "left", "baseline": "middle", "font": "Liberation Serif", "fontSize": 8.5, "color": "#222"},
         "encoding": {
          "x": {"field": "t", "type": "quantitative", "axis": {"orient": "top", "values": [1,2,3,4,5,6,7,8,9,10,20,30,40,50,60,70,80], "labels": false, "title": null}},
          "y": {"field": "v", "type": "quantitative", "axis": {"orient": "right", "values": [-50,-40,-30,-20,-10,0,10,20,30,40,50,60], "labels": false, "title": null}},
          "text": {"field": "s"}
         }}
       ],
       "resolve": {"axis": {"x": "independent", "y": "independent"}}
      }
    ]}
  ]
}
